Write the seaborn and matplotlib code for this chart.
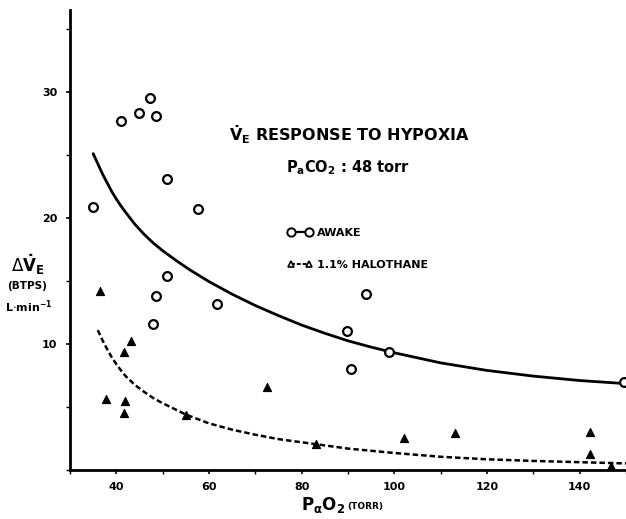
import matplotlib
matplotlib.use("Agg")
import matplotlib.pyplot as plt
from matplotlib.lines import Line2D
from matplotlib.ticker import MultipleLocator
import seaborn as sns
import pandas as pd

# --- data ---
awake_po2 = [35.0, 40.9, 45.0, 47.3, 48.5, 50.9, 57.7, 50.9, 48.6, 48.0, 61.7, 89.7, 93.9, 90.7, 98.9, 149.6]
awake_ve = [20.9, 27.7, 28.3, 29.5, 28.1, 23.1, 20.7, 15.4, 13.8, 11.6, 13.2, 11.05, 14.0, 8.0, 9.35, 7.0]

halo_po2 = [36.4, 37.7, 41.6, 43.1, 41.9, 41.7, 55.0, 72.5, 83.0, 102.0, 113.1, 142.2, 142.2, 146.8]
halo_ve = [14.2, 5.6, 9.4, 10.25, 5.5, 4.55, 4.4, 6.55, 2.1, 2.5, 2.9, 3.0, 1.25, 0.3]

awake_fit_po2 = [35, 36, 37, 38, 39, 40, 41, 42, 44, 46, 48, 50, 53, 56, 60, 65, 70, 75, 80,
                 85, 90, 95, 100, 110, 120, 130, 140, 150]
awake_fit_ve = [25.1, 24.3, 23.5, 22.8, 22.1, 21.5, 20.95, 20.45, 19.5, 18.7, 18.0, 17.4, 16.6,
                15.85, 14.95, 13.95, 13.05, 12.25, 11.5, 10.85, 10.25, 9.75, 9.3, 8.5, 7.9, 7.45,
                7.1, 6.85]

halo_fit_po2 = [36, 37, 38, 39, 40, 41, 42, 44, 46, 48, 50, 55, 60, 65, 70, 75, 80, 90, 100,
                110, 120, 130, 140, 150]
halo_fit_ve = [11.1, 10.3, 9.6, 8.95, 8.4, 7.9, 7.45, 6.75, 6.2, 5.7, 5.3, 4.4, 3.7, 3.2, 2.8,
               2.45, 2.2, 1.7, 1.35, 1.05, 0.85, 0.72, 0.62, 0.52]

x_ticks = [40, 60, 80, 100, 120, 140]
y_ticks = [10, 20, 30]

sns.set_theme(style="ticks")
plt.rcParams["font.family"] = ["DejaVu Sans"]
plt.rcParams["mathtext.fontset"] = "dejavusans"
plt.rcParams["text.color"] = "black"
plt.rcParams["xtick.color"] = "black"
plt.rcParams["ytick.color"] = "black"

fig = plt.figure(figsize=(6.26, 5.19), dpi=100)
ax = fig.add_axes([70 / 626, 1 - 470 / 519, 1 - 70 / 626, (470 - 10) / 519])

df_awake = pd.DataFrame({"po2": awake_po2, "ve": awake_ve})
df_halo = pd.DataFrame({"po2": halo_po2, "ve": halo_ve})
df_afit = pd.DataFrame({"po2": awake_fit_po2, "ve": awake_fit_ve})
df_hfit = pd.DataFrame({"po2": halo_fit_po2, "ve": halo_fit_ve})

sns.lineplot(data=df_afit, x="po2", y="ve", color="black", lw=2.0, ax=ax, sort=True)
sns.lineplot(data=df_hfit, x="po2", y="ve", color="black", lw=1.8, ax=ax, sort=True,
             linestyle=(0, (2.2, 1.2)))
sns.scatterplot(data=df_awake, x="po2", y="ve", marker="o", s=40, facecolor="white",
                edgecolor="black", linewidth=1.6, ax=ax, zorder=5, clip_on=False)
sns.scatterplot(data=df_halo, x="po2", y="ve", marker="^", s=34, color="black",
                edgecolor="black", linewidth=0.8, ax=ax, zorder=5, clip_on=False)

ax.set_xlim(30, 150)
ax.set_ylim(0, 36.5)
ax.set_xticks(x_ticks)
ax.set_yticks(y_ticks)
ax.xaxis.set_minor_locator(MultipleLocator(10))
ax.yaxis.set_minor_locator(MultipleLocator(5))
ax.tick_params(axis="both", which="major", direction="out", length=3, width=1.2,
               labelsize=8, pad=6, colors="black")
ax.tick_params(axis="both", which="minor", direction="out", length=3, width=1.0, colors="black")
for lab in ax.get_xticklabels() + ax.get_yticklabels():
    lab.set_fontweight("bold")
for side in ["top", "right"]:
    ax.spines[side].set_visible(False)
for side in ["left", "bottom"]:
    ax.spines[side].set_linewidth(2.0)
    ax.spines[side].set_color("black")
ax.set_xlabel("")
ax.set_ylabel("")

# axis labels
fig.text(345 / 626, 1 - 505 / 519, r"P$_{\mathbf{\alpha}}$O$_{\mathbf{2}}$", ha="right", va="center",
         fontsize=12, fontweight="bold")
fig.text(347 / 626, 1 - 507 / 519, "(TORR)", ha="left", va="center", fontsize=6.5,
         fontweight="bold")
fig.text(28 / 626, 1 - 265 / 519, r"$\Delta\mathbf{\dot{V}_E}$", ha="center", va="center",
         fontsize=12, fontweight="bold")
fig.text(27 / 626, 1 - 286 / 519, "(BTPS)", ha="center", va="center", fontsize=7.5,
         fontweight="bold")
fig.text(29 / 626, 1 - 307 / 519, r"L$\cdot$min$^{\mathbf{-1}}$", ha="center", va="center",
         fontsize=8, fontweight="bold")

# title block
fig.text(349 / 626, 1 - 135 / 519, r"$\mathbf{\dot{V}_E}$ RESPONSE TO HYPOXIA", ha="center",
         va="center", fontsize=11.5, fontweight="bold")
fig.text(348 / 626, 1 - 168 / 519, r"P$_{\mathbf{a}}$CO$_{\mathbf{2}}$ : 48 torr", ha="center",
         va="center", fontsize=10.5, fontweight="bold")

handles = [
    Line2D([0], [0], color="black", lw=1.6, marker="o", markersize=6, markerfacecolor="white",
           markeredgecolor="black", markeredgewidth=1.4),
    Line2D([0], [0], color="black", lw=1.4, linestyle=(0, (2, 1)), marker="^", markersize=5,
           markerfacecolor="white", markeredgecolor="black", markeredgewidth=1.2),
]
leg = fig.legend(handles, ["AWAKE", "1.1% HALOTHANE"], loc="upper left",
                 bbox_to_anchor=(288 / 626, 1 - 228 / 519), frameon=False, numpoints=2,
                 handlelength=2.2, handletextpad=0.4, labelspacing=2.0, borderpad=0,
                 borderaxespad=0, prop={"size": 8, "weight": "bold"})

fig.savefig("out.png", dpi=100)
